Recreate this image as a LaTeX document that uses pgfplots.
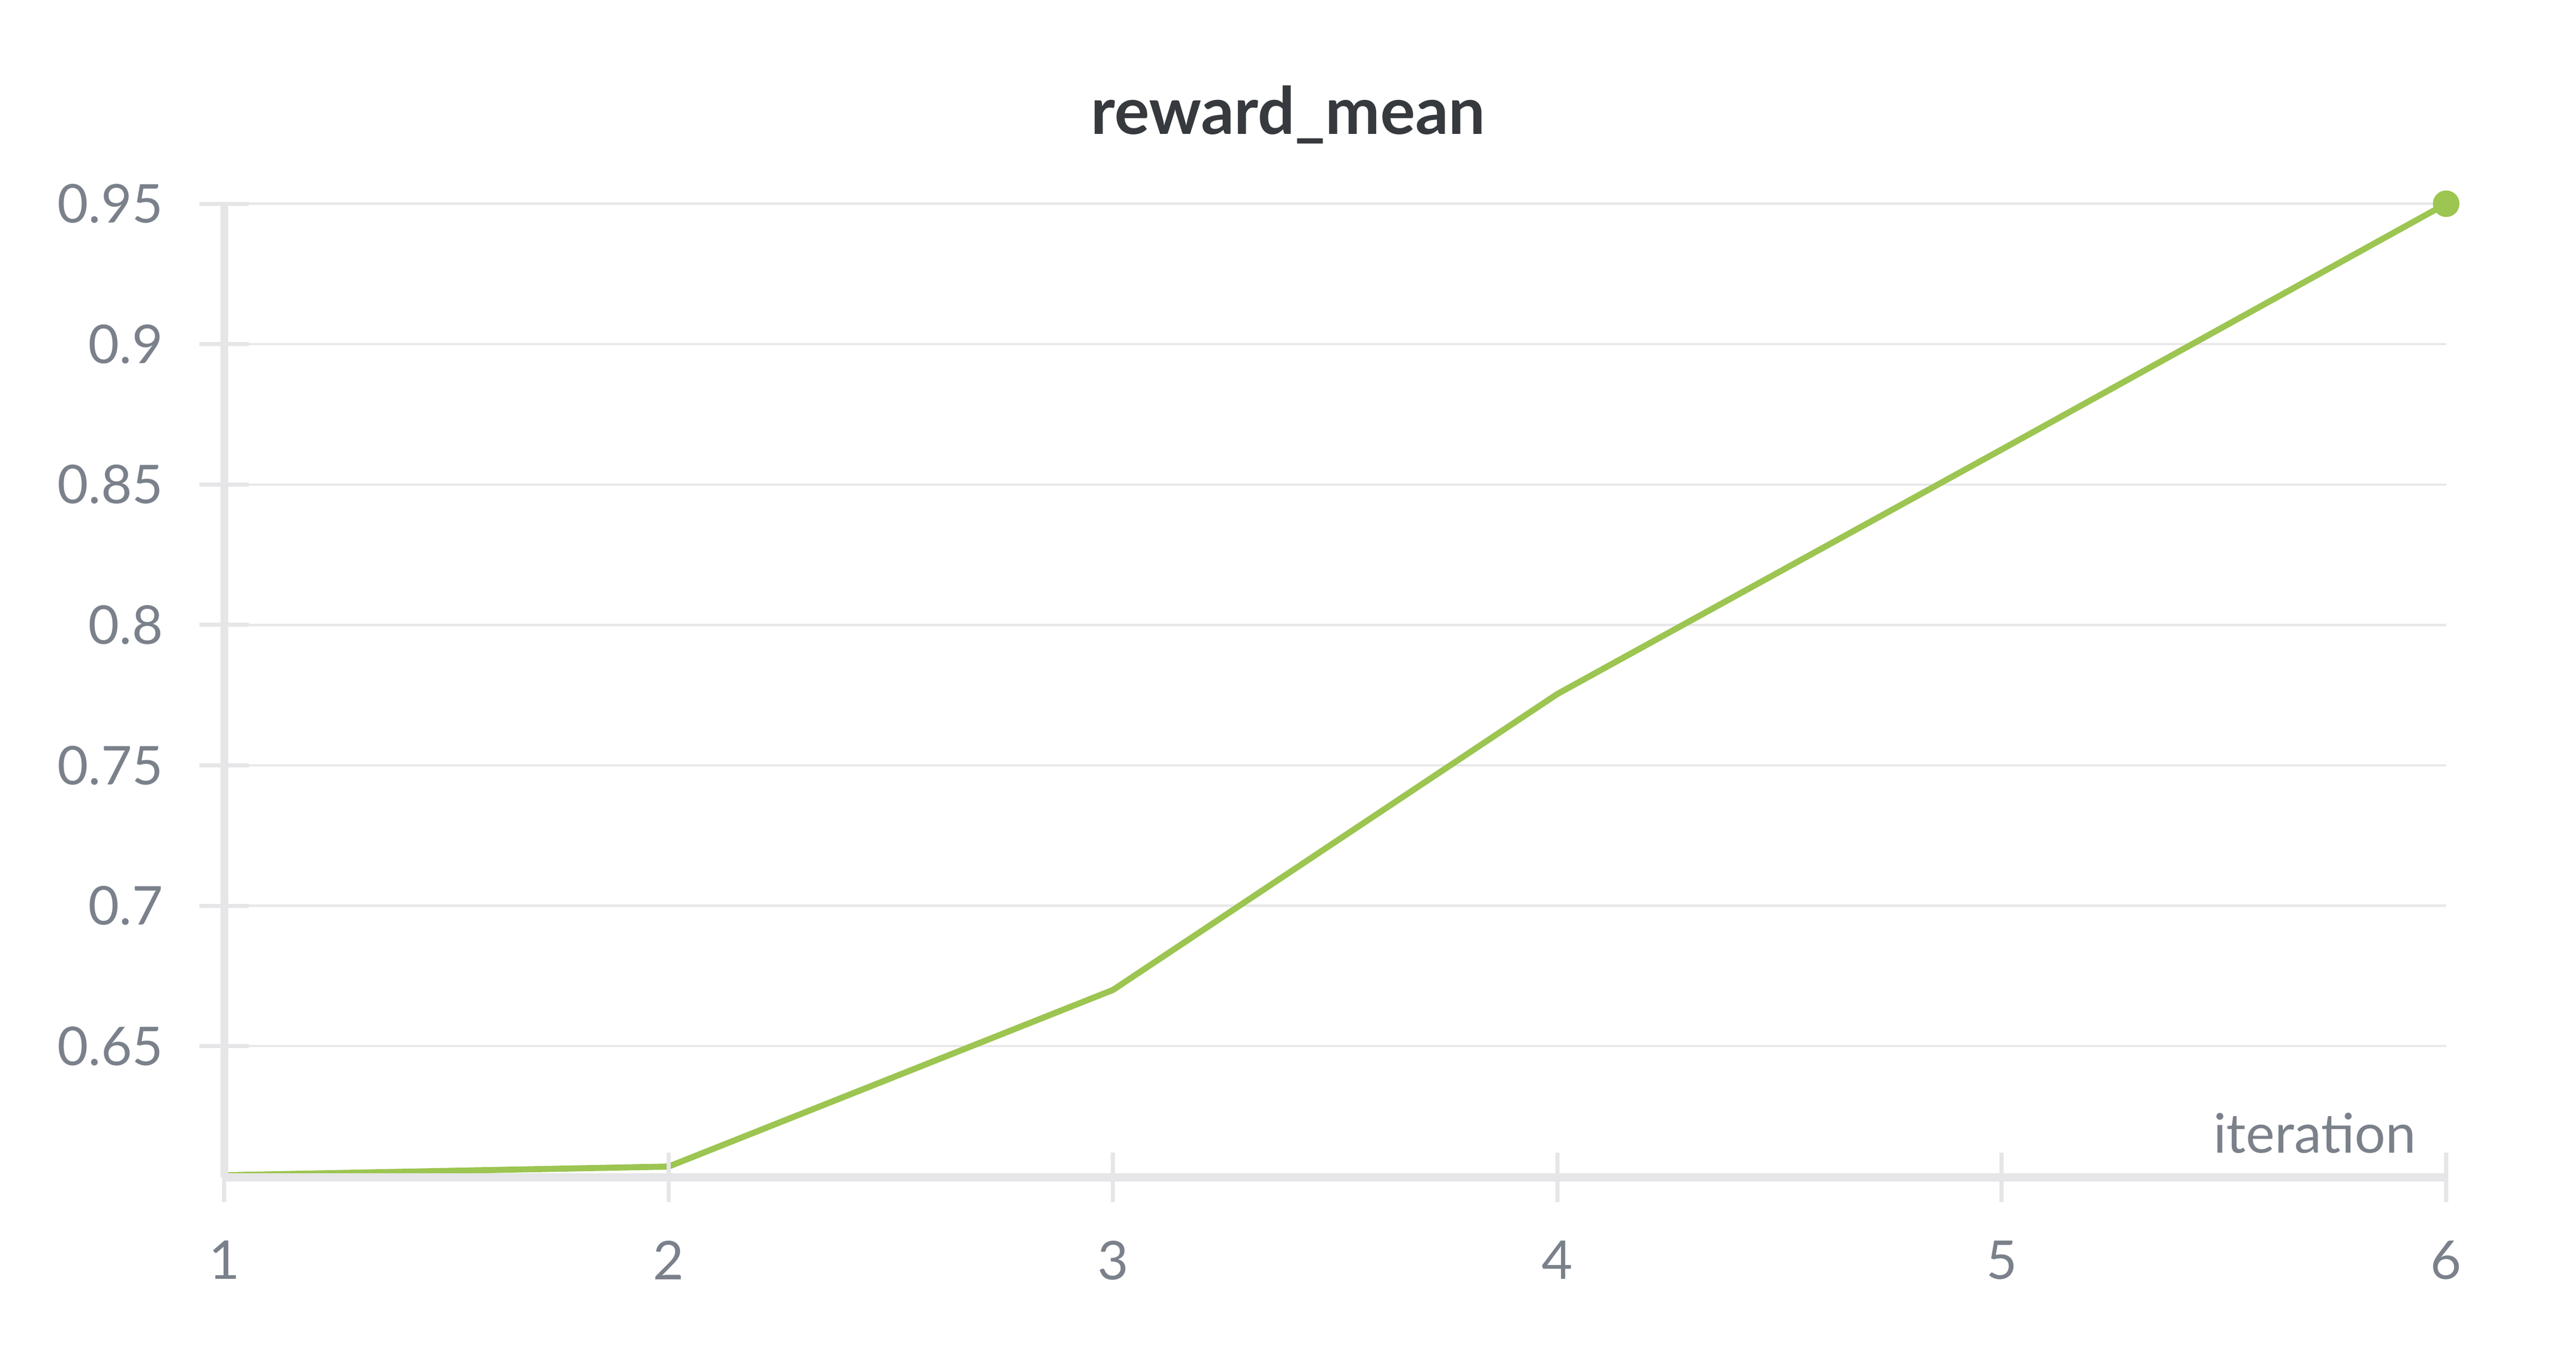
\documentclass[border=0pt]{standalone}
\usepackage{pgfplots}
\pgfplotsset{compat=1.18}
\usepackage{fontspec}
\setmainfont{Lato}

\definecolor{tickgray}{HTML}{7B818B}
\definecolor{titlegray}{HTML}{36393D}
\definecolor{axisgray}{HTML}{E6E6E8}
\definecolor{gridgray}{HTML}{E8E8EA}
\definecolor{runkgreen}{HTML}{9CC551}

% grid under the run, axis lines and ticks over it
\pgfplotsset{
  layers/runlayers/.define layer set={
    axis background,axis grid,main,axis ticks,axis lines,axis tick labels,axis descriptions,axis foreground
  }{
    grid style={/pgfplots/on layer=axis grid},
    tick style={/pgfplots/on layer=axis ticks},
    axis line style={/pgfplots/on layer=axis lines},
    label style={/pgfplots/on layer=axis descriptions},
    legend style={/pgfplots/on layer=axis descriptions},
    title style={/pgfplots/on layer=axis descriptions},
    colorbar style={/pgfplots/on layer=axis descriptions},
    ticklabel style={/pgfplots/on layer=axis tick labels},
    axis background@ style={/pgfplots/on layer=axis background},
    3d box foreground style={/pgfplots/on layer=axis foreground},
  },
}

\begin{document}
\begin{tikzpicture}
\begin{axis}[
    set layers=runlayers,
    at={(0pt,0pt)}, anchor=south west,
    scale only axis,
    width=390.75pt, height=171.3pt,
    xmin=1, xmax=6,
    ymin=0.6032, ymax=0.95,
    axis x line=bottom,
    axis y line=left,
    axis line style={draw=axisgray, -},
    x axis line style={line width=1.43pt},
    y axis line style={line width=1.35pt},
    xtick={1,2,3,4,5,6},
    ytick={0.65,0.7,0.75,0.8,0.85,0.9,0.95},
    tick align=center,
    major tick length=8.7pt,
    tick style={draw=axisgray, line width=0.72pt},
    ymajorgrids,
    grid style={draw=gridgray, line width=0.4pt},
    /pgf/number format/assume math mode=true,
    /pgf/number format/fixed,
    /pgf/number format/precision=2,
    ticklabel style={text=tickgray, font=\fontsize{9.4}{11}\selectfont, inner sep=0pt},
    yticklabel style={anchor=east, xshift=-6.2pt},
    xticklabel style={anchor=north, yshift=-6.6pt},
    xlabel={iteration},
    xlabel style={at={(rel axis cs:1,0)}, anchor=base east, xshift=-5.1pt, yshift=4.3pt,
      inner sep=0pt, text=tickgray, font=\fontsize{9.6}{11}\selectfont},
    clip=false,
  ]
  \addplot[runkgreen, line width=1.07pt, line join=round,
    mark=*, mark indices={6}, mark size=1.8pt,
    mark options={fill=runkgreen, draw=none}]
    coordinates {(1,0.6040) (2,0.6071) (3,0.6700) (4,0.7754) (5,0.8625) (6,0.9500)};
\end{axis}
\node[anchor=base, inner sep=0pt, text=titlegray, font=\bfseries\fontsize{11.5}{13}\selectfont]
  at (187.1pt,183.5pt) {reward\_mean};
\path (-39.42pt,-30.82pt) rectangle (413.58pt,207.14pt);
\end{tikzpicture}
\end{document}
